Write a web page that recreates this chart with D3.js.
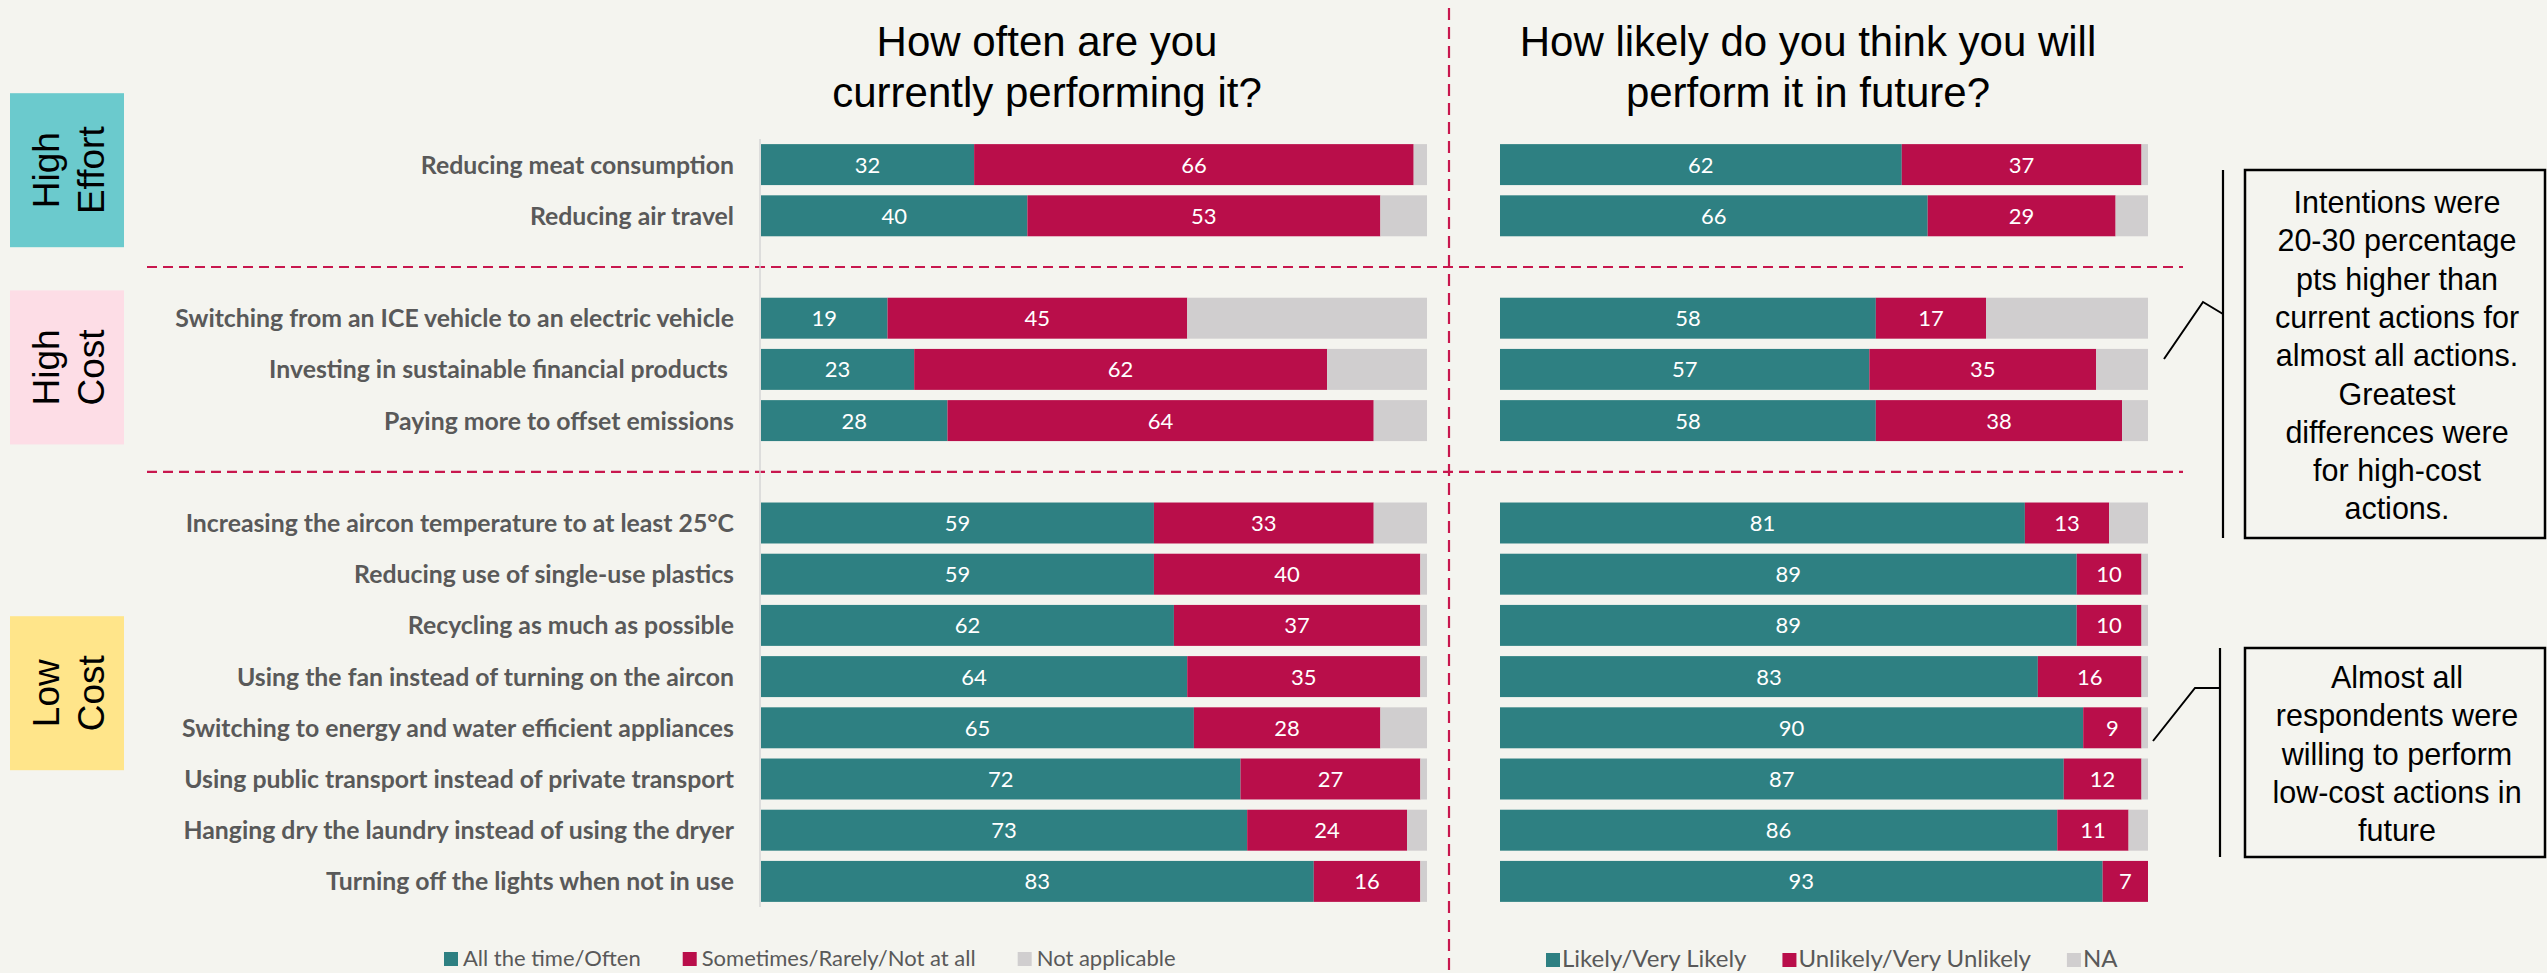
<!DOCTYPE html>
<html>
<head>
<meta charset="utf-8">
<script src="https://cdn.jsdelivr.net/npm/d3@7"></script>
<style>
  html, body { margin: 0; padding: 0; background: #F4F4EF; }
  svg { display: block; }
</style>
</head>
<body>
<svg id="chart" width="2547" height="973"></svg>
<script>
// Sustainable actions, grouped by effort / cost
const categories = [
  "Reducing meat consumption",
  "Reducing air travel",
  "Switching from an ICE vehicle to an electric vehicle",
  "Investing in sustainable financial products ",
  "Paying more to offset emissions",
  "Increasing the aircon temperature to at least 25°C",
  "Reducing use of single-use plastics",
  "Recycling as much as possible",
  "Using the fan instead of turning on the aircon",
  "Switching to energy and water efficient appliances",
  "Using public transport instead of private transport",
  "Hanging dry the laundry instead of using the dryer",
  "Turning off the lights when not in use"
];
const groupNames = ["High Effort", "High Cost", "Low Cost"];
const groupSizes = [2, 3, 8];

// Current behaviour (%)
const currentOften  = [32, 40, 19, 23, 28, 59, 59, 62, 64, 65, 72, 73, 83];
const currentRarely = [66, 53, 45, 62, 64, 33, 40, 37, 35, 28, 27, 24, 16];
const currentNA     = [ 2,  7, 36, 15,  8,  8,  1,  1,  1,  7,  1,  3,  1];

// Future intention (%)
const futureLikely   = [62, 66, 58, 57, 58, 81, 89, 89, 83, 90, 87, 86, 93];
const futureUnlikely = [37, 29, 17, 35, 38, 13, 10, 10, 16,  9, 12, 11,  7];
const futureNA       = [ 1,  5, 25,  8,  4,  6,  1,  1,  1,  1,  1,  3,  0];

const currentLegend = ["All the time/Often", "Sometimes/Rarely/Not at all", "Not applicable"];
const futureLegend  = ["Likely/Very Likely", "Unlikely/Very Unlikely", "NA"];

const titleLeft  = ["How often are you", "currently performing it?"];
const titleRight = ["How likely do you think you will", "perform it in future?"];

const note1 = ["Intentions were", "20-30 percentage", "pts higher than", "current actions for",
               "almost all actions.", "Greatest", "differences were", "for high-cost", "actions."];
const note2 = ["Almost all", "respondents were", "willing to perform", "low-cost actions in", "future"];

// ---- styling ----
const COLORS = ["#2E8082", "#B90E4A", "#D0CECF"];
const GROUP_FILL = ["#6BCACD", "#FDDDE6", "#FFE58A"];
const DASH_COLOR = "#C8174E";
const LABEL_FONT = "Lato, 'Open Sans', sans-serif";
const ARIAL = "'Liberation Sans', Arial, sans-serif";

const svg = d3.select("#chart");
svg.append("rect").attr("width", 2547).attr("height", 973).attr("fill", "#F4F4EF");

// ---- row slots: items with an empty slot between groups ----
const slots = [];
let idx = 0;
groupSizes.forEach((n, g) => {
  if (g > 0) slots.push("sep" + g);
  for (let i = 0; i < n; i++) { slots.push("r" + idx); idx++; }
});

const y = d3.scaleBand().domain(slots).range([139, 907]).paddingInner(0.2).paddingOuter(0.1);
const xLeft  = d3.scaleLinear().domain([0, 100]).range([761, 1427]);
const xRight = d3.scaleLinear().domain([0, 100]).range([1500, 2148]);

// ---- group boxes ----
const boxOffsets = [-20, -2, -9];
let start = 0;
groupSizes.forEach((n, g) => {
  const top = y("r" + start), bottom = y("r" + (start + n - 1)) + y.bandwidth();
  const cy = (top + bottom) / 2 + boxOffsets[g];
  const cx = 67;
  svg.append("rect")
    .attr("x", 10).attr("y", cy - 77).attr("width", 114).attr("height", 154)
    .attr("fill", GROUP_FILL[g]);
  const words = groupNames[g].split(" ");
  const t = svg.append("g").attr("transform", `translate(${cx},${cy}) rotate(-90)`);
  words.forEach((w, i) => {
    t.append("text").attr("x", 0).attr("y", i === 0 ? -8 : 37)
      .attr("text-anchor", "middle")
      .attr("font-family", ARIAL).attr("font-size", 37).attr("fill", "#000")
      .text(w);
  });
  start += n;
});

// ---- separators ----
["sep1", "sep2"].forEach(s => {
  const yy = y(s) + y.bandwidth() / 2;
  svg.append("line")
    .attr("x1", 147).attr("x2", 2183).attr("y1", yy).attr("y2", yy)
    .attr("stroke", DASH_COLOR).attr("stroke-width", 2.2).attr("stroke-dasharray", "10,6");
});
svg.append("line")
  .attr("x1", 1449).attr("x2", 1449).attr("y1", 8).attr("y2", 973)
  .attr("stroke", DASH_COLOR).attr("stroke-width", 2.2).attr("stroke-dasharray", "12,7");

// left axis line
svg.append("line")
  .attr("x1", 760).attr("x2", 760).attr("y1", 139).attr("y2", 907)
  .attr("stroke", "#D6D6D6").attr("stroke-width", 1.5);

// ---- row labels ----
svg.append("g").selectAll("text").data(categories).join("text")
  .attr("x", 734)
  .attr("y", (d, i) => y("r" + i) + y.bandwidth() / 2)
  .attr("dy", "0.36em")
  .attr("text-anchor", "end")
  .attr("font-family", LABEL_FONT).attr("font-weight", 700).attr("font-size", 24.8)
  .attr("fill", "#595959")
  .style("white-space", "pre")
  .text(d => d);

// ---- stacked bars ----
function drawPanel(x, a, b, c) {
  const segs = [];
  categories.forEach((_, i) => {
    let acc = 0;
    [a[i], b[i], c[i]].forEach((v, k) => { segs.push({ i, k, v, x0: acc, x1: acc + v }); acc += v; });
  });
  const g = svg.append("g");
  g.selectAll("rect").data(segs).join("rect")
    .attr("x", d => x(d.x0))
    .attr("y", d => y("r" + d.i))
    .attr("width", d => x(d.x1) - x(d.x0))
    .attr("height", y.bandwidth())
    .attr("fill", d => COLORS[d.k]);
  g.selectAll("text").data(segs.filter(d => d.k < 2 && d.v > 0)).join("text")
    .attr("x", d => (x(d.x0) + x(d.x1)) / 2)
    .attr("y", d => y("r" + d.i) + y.bandwidth() / 2)
    .attr("dy", "0.36em")
    .attr("text-anchor", "middle")
    .attr("font-family", LABEL_FONT).attr("font-size", 22)
    .attr("fill", "#fff")
    .text(d => d.v);
}
drawPanel(xLeft, currentOften, currentRarely, currentNA);
drawPanel(xRight, futureLikely, futureUnlikely, futureNA);

// ---- titles ----
function title(lines, cx) {
  lines.forEach((l, i) => {
    svg.append("text").attr("x", cx).attr("y", 56 + i * 51)
      .attr("text-anchor", "middle")
      .attr("font-family", ARIAL).attr("font-size", 42).attr("fill", "#000")
      .text(l);
  });
}
title(titleLeft, 1047);
title(titleRight, 1808);

// ---- legends ----
function legend(items, x0, baseline, gap, textGap, size) {
  let x = x0;
  items.forEach((label, k) => {
    svg.append("rect").attr("x", x).attr("y", baseline - 14).attr("width", 14).attr("height", 14)
      .attr("fill", COLORS[k]);
    const t = svg.append("text").attr("x", x + textGap).attr("y", baseline)
      .attr("font-family", LABEL_FONT).attr("font-size", size).attr("fill", "#595959")
      .text(label);
    x += textGap + t.node().getComputedTextLength() + gap;
  });
}
legend(currentLegend, 444, 966, 42, 19, 22);
legend(futureLegend, 1546, 967, 36, 16, 24);

// ---- callouts ----
function callout(lines, top, bottom, firstBaseline, pointer) {
  svg.append("rect").attr("x", 2245).attr("y", top).attr("width", 300).attr("height", bottom - top)
    .attr("fill", "none").attr("stroke", "#000").attr("stroke-width", 2.5);
  svg.append("line").attr("x1", pointer.barX).attr("x2", pointer.barX)
    .attr("y1", top).attr("y2", bottom).attr("stroke", "#000").attr("stroke-width", 2.2);
  svg.append("path").attr("d", d3.line()(pointer.pts))
    .attr("fill", "none").attr("stroke", "#000").attr("stroke-width", 2);
  lines.forEach((l, i) => {
    svg.append("text").attr("x", 2397).attr("y", firstBaseline + i * 38.3)
      .attr("text-anchor", "middle")
      .attr("font-family", ARIAL).attr("font-size", 30.5).attr("fill", "#000")
      .text(l);
  });
}
callout(note1, 170, 538, 213, { barX: 2223, pts: [[2223, 314], [2203, 302], [2164, 359]] });
callout(note2, 648, 857, 688, { barX: 2220, pts: [[2220, 688], [2195, 688], [2153, 741]] });
</script>
</body>
</html>
